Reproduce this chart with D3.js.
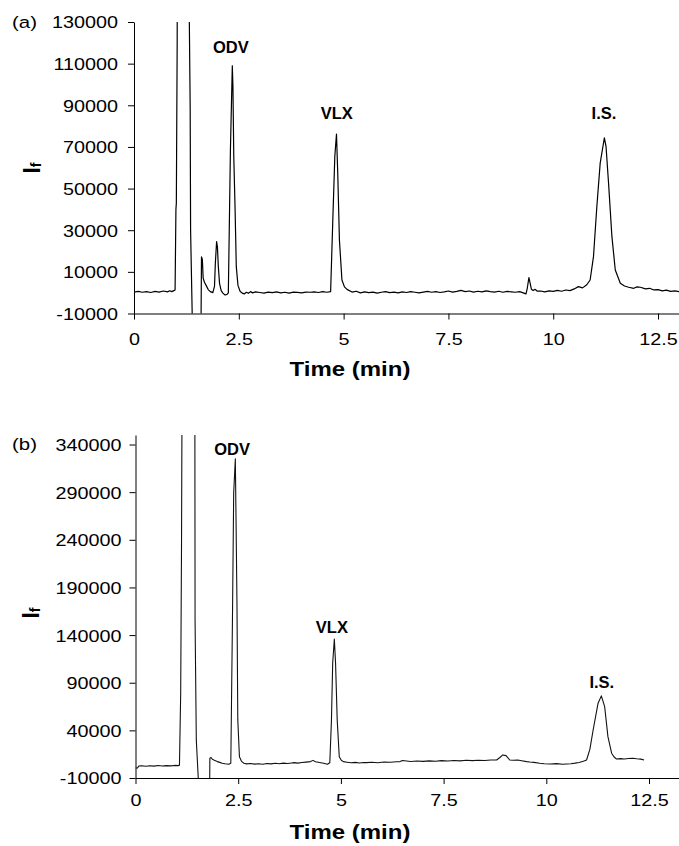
<!DOCTYPE html>
<html>
<head>
<meta charset="utf-8">
<script src="https://cdn.jsdelivr.net/npm/d3@7"></script>
<style>
body { margin: 0; background: #fff; }
text { font-family: "Liberation Sans", Arial, sans-serif; }
</style>
</head>
<body>
<script>
// ---- data (time in min, fluorescence intensity) ----
const timeA = [0.00, 0.10, 0.20, 0.30, 0.40, 0.50, 0.60, 0.70, 0.80, 0.85, 0.90, 0.95, 0.98, 1.00, 1.01, 1.03, 1.05,
	1.30, 1.32, 1.34, 1.35, 1.39, 1.40, 1.59, 1.60, 1.61, 1.63, 1.65, 1.68, 1.72, 1.77, 1.82, 1.88, 1.92, 1.94, 1.97,
	1.99, 2.01, 2.04, 2.08, 2.12, 2.17, 2.22, 2.25, 2.27, 2.30, 2.345, 2.36, 2.38, 2.41, 2.44, 2.48, 2.53, 2.58, 2.63,
	2.68, 2.73, 2.78, 2.83, 2.90, 3.00, 3.10, 3.20, 3.30, 3.40, 3.50, 3.60, 3.70, 3.80, 3.90, 4.00, 4.10, 4.20, 4.30,
	4.40, 4.50, 4.60, 4.69, 4.74, 4.79, 4.83, 4.86, 4.90, 4.96, 5.02, 5.08, 5.20, 5.30, 5.40, 5.50, 5.60, 5.70, 5.80,
	5.90, 6.00, 6.10, 6.20, 6.30, 6.40, 6.50, 6.60, 6.70, 6.80, 6.90, 7.00, 7.10, 7.20, 7.30, 7.40, 7.50, 7.60, 7.70,
	7.80, 7.90, 8.00, 8.10, 8.20, 8.30, 8.40, 8.50, 8.60, 8.70, 8.80, 8.90, 9.00, 9.10, 9.20, 9.30, 9.35, 9.38, 9.42,
	9.45, 9.48, 9.52, 9.57, 9.62, 9.70, 9.80, 9.90, 10.00, 10.10, 10.20, 10.30, 10.40, 10.50, 10.60, 10.70, 10.80,
	10.88, 10.96, 11.04, 11.12, 11.22, 11.26, 11.32, 11.40, 11.48, 11.60, 11.70, 11.80, 11.92, 12.00, 12.08, 12.20,
	12.30, 12.40, 12.50, 12.60, 12.70, 12.80, 12.90, 13.00];
const signalA = [300, 600, 200, 500, 100, 600, 300, 800, 400, 900, 500, 1000, 1300, 40000, 43000, 120000, 400000,
	400000, 130000, 89000, 30000, -12000, -60000, -60000, -12000, 17200, 16000, 7000, 5000, 3500, 1500, 500, 0, 3000,
	14000, 24500, 22000, 13000, 4500, 1000, -200, -1100, -800, -100, 26900, 68600, 109000, 99000, 65400, 41300, 12500,
	3500, 700, -200, -600, 200, -300, 500, -100, 400, 100, -200, 300, 0, 400, -100, 200, -200, 300, 100, -100, 300,
	200, 400, 100, 500, 200, 500, 33400, 65400, 76200, 57400, 25300, 6100, 2800, 1600, 300, 700, -100, 400, 0, 300,
	-200, 200, 500, 0, 300, -100, 400, 100, 500, 200, -100, 300, 600, 200, 500, 100, 400, 800, 300, 600, 1100, 500,
	800, 300, 700, 400, 900, 500, 300, 700, 200, 600, 400, 200, 500, -200, -600, 2000, 7200, 4500, 1600, 1000, 1600,
	700, 800, 400, 900, 600, 1100, 700, 1300, 1000, 1800, 2900, 2300, 3800, 6100, 17300, 41300, 62200, 74400, 70100,
	52500, 26900, 10900, 4500, 3200, 2600, 2100, 2800, 2600, 1800, 2100, 1300, 1500, 900, 1200, 600, 900, 500];

const timeB = [0.00, 0.05, 0.08, 0.15, 0.25, 0.35, 0.45, 0.55, 0.65, 0.75, 0.85, 0.95, 1.04, 1.07, 1.10, 1.12, 1.15,
	1.44, 1.45, 1.48, 1.53, 1.54, 1.80, 1.81, 1.84, 1.87, 1.92, 1.99, 2.05, 2.11, 2.18, 2.27, 2.32, 2.36, 2.39, 2.43,
	2.45, 2.47, 2.49, 2.53, 2.58, 2.64, 2.70, 2.80, 2.90, 3.00, 3.10, 3.20, 3.30, 3.40, 3.50, 3.60, 3.70, 3.80, 3.86,
	3.95, 4.05, 4.15, 4.26, 4.32, 4.38, 4.48, 4.58, 4.67, 4.73, 4.77, 4.80, 4.84, 4.87, 4.91, 4.96, 5.01, 5.06, 5.15,
	5.25, 5.35, 5.45, 5.55, 5.62, 5.75, 5.90, 6.05, 6.20, 6.35, 6.44, 6.50, 6.60, 6.70, 6.85, 7.00, 7.15, 7.30, 7.45,
	7.60, 7.75, 7.90, 8.05, 8.20, 8.35, 8.50, 8.65, 8.79, 8.87, 8.94, 9.02, 9.11, 9.20, 9.30, 9.40, 9.52, 9.60, 9.70,
	9.84, 9.95, 10.10, 10.25, 10.40, 10.49, 10.60, 10.70, 10.80, 10.90, 10.98, 11.06, 11.14, 11.26, 11.34, 11.42,
	11.50, 11.59, 11.65, 11.71, 11.80, 11.90, 12.00, 12.11, 12.20, 12.30, 12.38];
const signalB = [500, 600, 2600, 2800, 2300, 2900, 2500, 3100, 2600, 3000, 2700, 3200, 3000, 3500, 79000, 233000,
	600000, 600000, 156000, 30000, -12000, -60000, -60000, 10700, 11500, 9700, 8600, 7200, 6400, 5500, 5000, 4500,
	5500, 156000, 289000, 325000, 250600, 173600, 51000, 12400, 7500, 5500, 4800, 5200, 4600, 5000, 4400, 5300, 4800,
	5400, 5000, 5600, 5200, 5800, 6100, 5600, 6300, 6700, 7200, 8500, 7000, 6200, 5400, 4500, 6100, 51000, 110500,
	135800, 110500, 51000, 12400, 8600, 7200, 6600, 6000, 6400, 5800, 6300, 6100, 6500, 6000, 6800, 6500, 7000, 7200,
	8300, 7900, 7300, 7800, 7400, 8000, 7600, 8200, 7800, 8300, 8000, 8600, 8200, 8700, 8400, 8900, 8900, 11500,
	14200, 13500, 8900, 8600, 8900, 8100, 7200, 6800, 6400, 5500, 5000, 4700, 5100, 4500, 4700, 5000, 5600, 6300,
	7500, 8900, 20000, 40400, 68500, 76200, 65000, 33400, 16000, 12000, 10000, 10300, 10000, 10500, 10700, 10200,
	9800, 8900];

const timeTicks = [0, 2.5, 5, 7.5, 10, 12.5];
const intensityTicksA = [-10000, 10000, 30000, 50000, 70000, 90000, 110000, 130000];
const intensityTicksB = [-10000, 40000, 90000, 140000, 190000, 240000, 290000, 340000];

// peak names, where they sit (time) and the intensity level of their baseline
const peakNamesA = ["ODV", "VLX", "I.S."];
const peakTimesA = [2.31, 4.835, 11.21];
const peakLabelValA = [115000, 83300, 83300];
const peakNamesB = ["ODV", "VLX", "I.S."];
const peakTimesB = [2.35, 4.78, 11.35];
const peakLabelValB = [329000, 142000, 84000];

const svg = d3.select("body").append("svg")
	.attr("width", 679)
	.attr("height", 846)
	.style("color", "#000");

const stretch = 1.2;

function drawPanel(p) {
	const x = d3.scaleLinear().domain(p.xDomain).range([p.left, p.right]);
	const y = d3.scaleLinear().domain(p.yDomain).range([p.bottom, p.top]);

	const g = svg.append("g");

	g.append("clipPath")
		.attr("id", p.id + "-clip")
		.append("rect")
		.attr("x", p.left)
		.attr("y", p.top)
		.attr("width", p.right - p.left)
		.attr("height", p.bottom - p.top);

	const line = d3.line()
		.x((d, i) => x(p.times[i]))
		.y(d => y(d));

	g.append("path")
		.datum(p.values)
		.attr("clip-path", `url(#${p.id}-clip)`)
		.attr("fill", "none")
		.attr("stroke", p.lineColor)
		.attr("stroke-width", p.lineWidth)
		.attr("stroke-linejoin", "round")
		.attr("d", line);

	// y axis
	const yAxis = g.append("g")
		.attr("transform", `translate(${p.left},0)`)
		.call(d3.axisLeft(y).tickValues(p.yTicks).tickSize(6).tickSizeOuter(0).tickFormat(d => String(d)));
	yAxis.selectAll("text")
		.attr("x", null)
		.attr("dy", "0.36em")
		.attr("font-size", 16.5)
		.attr("font-family", "Liberation Sans, Arial, sans-serif")
		.attr("transform", `translate(${-p.yLabelGap},0) scale(${stretch},1)`);

	// x axis
	const xAxis = g.append("g")
		.attr("transform", `translate(0,${p.bottom})`)
		.call(d3.axisBottom(x).tickValues(timeTicks).tickSize(6).tickSizeOuter(0).tickFormat(d => String(d)));
	xAxis.selectAll("text")
		.attr("y", null)
		.attr("dy", null)
		.attr("font-size", 16.5)
		.attr("font-family", "Liberation Sans, Arial, sans-serif")
		.attr("transform", `translate(0,${p.xLabelGap}) scale(${stretch},1)`);

	g.selectAll(".domain, .tick line").attr("stroke", "#000");

	// axis titles
	g.append("text")
		.attr("transform", `translate(${p.titleX},${p.titleY}) scale(${stretch},1)`)
		.attr("text-anchor", "middle")
		.attr("font-size", 20)
		.attr("font-weight", "bold")
		.text("Time (min)");

	const yt = g.append("text")
		.attr("transform", `translate(${p.yTitleX},${p.yTitleY}) rotate(-90)`)
		.attr("text-anchor", "middle")
		.attr("font-weight", "bold");
	yt.append("tspan").attr("font-size", 23).text("I");
	yt.append("tspan").attr("font-size", 14).attr("dy", 1).text("f");

	// panel letter
	g.append("text")
		.attr("transform", `translate(12,${p.letterY}) scale(${stretch},1)`)
		.attr("font-size", 17)
		.text(p.letter);

	// peak names
	g.selectAll(".peak")
		.data(p.peakNames)
		.join("text")
		.attr("class", "peak")
		.attr("x", (d, i) => x(p.peakTimes[i]))
		.attr("y", (d, i) => y(p.peakLabelVals[i]))
		.attr("text-anchor", "middle")
		.attr("font-size", 16.5)
		.attr("font-weight", "bold")
		.text(d => d);
}

drawPanel({
	id: "a", letter: "(a)", letterY: 28,
	times: timeA, values: signalA,
	xDomain: [0, 13], yDomain: [-10000, 130000],
	left: 134, right: 679, top: 22, bottom: 313.5,
	yTicks: intensityTicksA, yLabelGap: 16, xLabelGap: 31,
	titleX: 350, titleY: 376, yTitleX: 40, yTitleY: 168,
	lineColor: "#000", lineWidth: 1.2,
	peakNames: peakNamesA, peakTimes: peakTimesA, peakLabelVals: peakLabelValA
});

drawPanel({
	id: "b", letter: "(b)", letterY: 450,
	times: timeB, values: signalB,
	xDomain: [0, 13.23], yDomain: [-10000, 350000],
	left: 135.5, right: 679, top: 435, bottom: 778,
	yTicks: intensityTicksB, yLabelGap: 14, xLabelGap: 28,
	titleX: 350, titleY: 839, yTitleX: 39, yTitleY: 613,
	lineColor: "#111", lineWidth: 1.1,
	peakNames: peakNamesB, peakTimes: peakTimesB, peakLabelVals: peakLabelValB
});
</script>
</body>
</html>
